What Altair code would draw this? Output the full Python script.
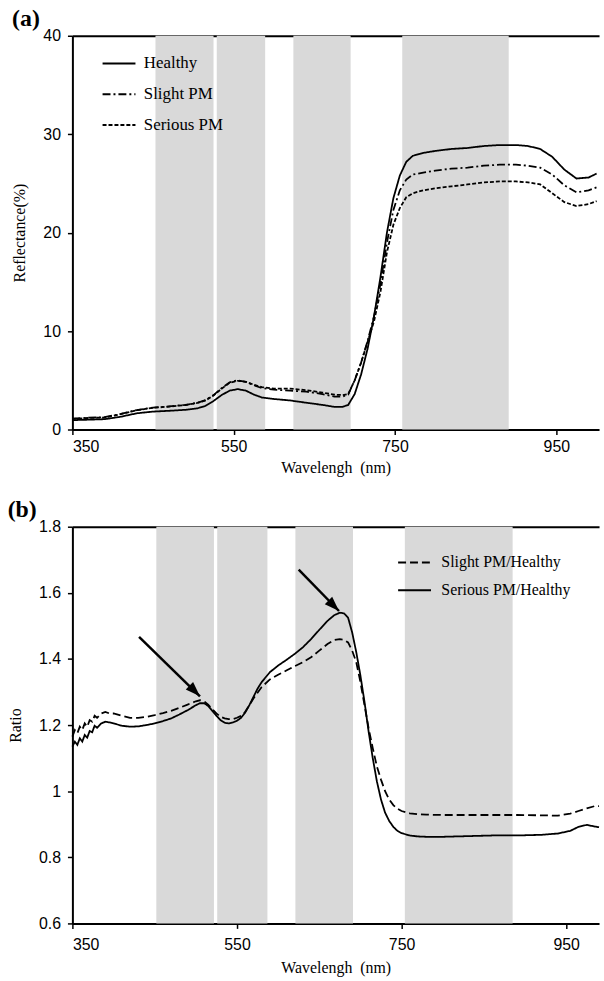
import altair as alt
import pandas as pd

# ---------------- Panel (a): reflectance spectra ----------------
wl_a = [350, 370, 390, 410, 430, 450, 470, 490, 505, 515, 525, 535, 545, 555, 565, 575,
        585, 600, 620, 640, 660, 675, 685, 692, 700, 708, 716, 724, 732, 740, 748, 756,
        764, 772, 785, 800, 820, 840, 860, 880, 900, 915, 930, 945, 960, 975, 990, 1000]
healthy = [0.95, 1.0, 1.05, 1.3, 1.65, 1.82, 1.9, 2.0, 2.15, 2.4, 2.9, 3.5, 3.95, 4.1, 3.95, 3.55,
           3.25, 3.1, 2.95, 2.72, 2.5, 2.3, 2.3, 2.5, 3.6, 5.6, 8.2, 11.5, 15.5, 20.0, 23.5, 25.8,
           27.2, 27.8, 28.1, 28.3, 28.5, 28.6, 28.8, 28.9, 28.9, 28.8, 28.5, 27.7, 26.4, 25.5, 25.6, 26.0]
slight = [1.1, 1.2, 1.25, 1.58, 1.98, 2.22, 2.35, 2.5, 2.72, 2.98, 3.5, 4.2, 4.8, 5.0, 4.85, 4.5,
          4.2, 4.05, 3.95, 3.85, 3.6, 3.35, 3.35, 3.55, 5.0, 6.8, 9.0, 11.5, 14.8, 19.0, 22.3, 24.3,
          25.4, 25.9, 26.1, 26.3, 26.5, 26.6, 26.8, 26.9, 26.9, 26.8, 26.6, 25.9, 24.8, 24.1, 24.3, 24.6]
serious = [1.08, 1.17, 1.22, 1.56, 1.97, 2.2, 2.33, 2.48, 2.7, 2.95, 3.45, 4.15, 4.75, 4.95, 4.85, 4.55,
           4.3, 4.15, 4.15, 4.0, 3.75, 3.54, 3.5, 3.6, 5.0, 6.8, 8.9, 11.0, 14.0, 18.0, 20.8, 22.5,
           23.6, 24.0, 24.3, 24.5, 24.7, 24.9, 25.1, 25.2, 25.2, 25.1, 24.9, 24.0, 23.1, 22.7, 22.9, 23.2]
series_a = ["Healthy", "Slight PM", "Serious PM"]

bands_a_start = [453, 529, 624, 759]
bands_a_end = [525, 589, 695, 891]

# ---------------- Panel (b): ratio spectra ----------------
wl_b = [350, 353, 356, 359, 362, 365, 368, 371, 374, 377, 380, 385, 390, 395, 400, 410, 420, 430,
        440, 450, 460, 470, 480, 490, 500, 505, 510, 515, 520, 525, 530, 535, 540, 545, 550, 555,
        560, 565, 570, 575, 580, 590, 600, 610, 620, 630, 640, 650, 660, 668, 675, 680, 685, 690,
        695, 700, 705, 710, 715, 720, 725, 730, 735, 740, 745, 750, 760, 770, 780, 800, 830, 860,
        890, 920, 940, 955, 965, 975, 985, 990]
ratio_slight = [1.165, 1.185, 1.175, 1.195, 1.185, 1.205, 1.195, 1.215, 1.21, 1.228, 1.222, 1.235, 1.24, 1.235,
                1.235, 1.228, 1.222, 1.222, 1.225, 1.23, 1.236, 1.243, 1.252, 1.262, 1.272, 1.275,
                1.272, 1.262, 1.248, 1.235, 1.225, 1.22, 1.218, 1.218, 1.222, 1.228, 1.24, 1.26, 1.28,
                1.298, 1.315, 1.338, 1.352, 1.365, 1.378, 1.39, 1.405, 1.425, 1.445, 1.457, 1.46,
                1.458, 1.45, 1.425, 1.39, 1.33, 1.26, 1.19, 1.13, 1.075, 1.035, 1.0, 0.975, 0.958,
                0.947, 0.94, 0.933, 0.93, 0.929, 0.928, 0.928, 0.928, 0.928, 0.927, 0.926, 0.932,
                0.94, 0.948, 0.955, 0.955]
ratio_serious = [1.135, 1.15, 1.14, 1.16, 1.15, 1.17, 1.162, 1.182, 1.178, 1.198, 1.192, 1.205, 1.21, 1.208,
                 1.205, 1.198, 1.195, 1.196, 1.2, 1.205, 1.212, 1.22, 1.232, 1.245, 1.26, 1.266,
                 1.266, 1.258, 1.243, 1.228, 1.215, 1.207, 1.205, 1.208, 1.213, 1.222, 1.238, 1.26,
                 1.285, 1.31, 1.33, 1.36, 1.38, 1.397, 1.415, 1.435, 1.46, 1.488, 1.515, 1.532, 1.54,
                 1.538, 1.525, 1.48, 1.42, 1.35, 1.27, 1.18, 1.1, 1.03, 0.975, 0.935, 0.91, 0.892,
                 0.88, 0.873, 0.866, 0.863, 0.862, 0.862, 0.864, 0.866, 0.866, 0.868, 0.872, 0.88,
                 0.892, 0.898, 0.893, 0.891]
series_b = ["Slight PM/Healthy", "Serious PM/Healthy"]

bands_b_start = [452, 526, 621, 754]
bands_b_end = [522, 587, 691, 885]

arrow_x_from = [431, 625]
arrow_y_from = [1.467, 1.670]
arrow_x_to = [505, 674]
arrow_y_to = [1.287, 1.545]

# ---------------- tables ----------------
df_a = pd.DataFrame({
    "wl": wl_a * 3,
    "val": healthy + slight + serious,
    "series": [series_a[0]] * len(wl_a) + [series_a[1]] * len(wl_a) + [series_a[2]] * len(wl_a),
})
df_b = pd.DataFrame({
    "wl": wl_b * 2,
    "val": ratio_slight + ratio_serious,
    "ratio": [series_b[0]] * len(wl_b) + [series_b[1]] * len(wl_b),
})
df_bands_a = pd.DataFrame({"start": bands_a_start, "end": bands_a_end})
df_bands_b = pd.DataFrame({"start": bands_b_start, "end": bands_b_end})
df_arrows = pd.DataFrame({"x0": arrow_x_from, "y0": arrow_y_from,
                          "x1": arrow_x_to, "y1": arrow_y_to})

SERIF = "Liberation Serif"
SANS = "Liberation Sans"
BAND = "#d9d9d9"

top_axis = alt.Axis(orient="top", labels=False, ticks=False, title=None, grid=False,
                    domainColor="black", domainWidth=2)

# ---------------- Panel (a) ----------------
xa = alt.Scale(domain=[350, 1003], nice=False, zero=False)
ya = alt.Scale(domain=[0, 40], nice=False)
ya_axis = alt.Axis(values=[0, 10, 20, 30, 40], title="Reflectance(%)", grid=False, titlePadding=15)

bands_a = alt.Chart(df_bands_a).mark_rect(color=BAND).encode(
    x=alt.X("start:Q", scale=xa, axis=top_axis),
    x2="end:Q",
)
lines_a = alt.Chart(df_a).mark_line(color="black", strokeWidth=1.8).encode(
    x=alt.X("wl:Q", scale=xa,
            axis=alt.Axis(values=[350, 550, 750, 950], title="Wavelengh\u00a0 (nm)", grid=False,
                          labelPadding=4, titlePadding=5)),
    y=alt.Y("val:Q", scale=ya, axis=ya_axis),
    strokeDash=alt.StrokeDash(
        "series:N",
        scale=alt.Scale(domain=series_a, range=[[1, 0], [8, 3, 2, 3], [4, 2]]),
        sort=series_a,
        legend=alt.Legend(title=None, orient="none", legendX=29, legendY=10,
                          symbolType="stroke", symbolSize=1100, symbolStrokeWidth=2,
                          symbolStrokeColor="black", labelFont=SERIF, labelFontSize=17,
                          labelColor="black", rowPadding=5, padding=0, labelOffset=7),
    ),
)
panel_a = alt.layer(bands_a, lines_a).resolve_axis(x="independent").properties(
    width=531, height=397,
    title=alt.TitleParams("(a)", anchor="start", font=SERIF, fontSize=24, fontWeight="bold",
                          color="black", offset=-3),
)

# ---------------- Panel (b) ----------------
xb = alt.Scale(domain=[350, 990], nice=False, zero=False)
yb = alt.Scale(domain=[0.6, 1.8], nice=False, zero=False)
yb_axis = alt.Axis(values=[0.6, 0.8, 1.0, 1.2, 1.4, 1.6, 1.8], format=".1~f", title="Ratio",
                   grid=False, titlePadding=15)

bands_b = alt.Chart(df_bands_b).mark_rect(color=BAND).encode(
    x=alt.X("start:Q", scale=xb, axis=top_axis),
    x2="end:Q",
)
lines_b = alt.Chart(df_b).mark_line(color="black", strokeWidth=1.8).encode(
    x=alt.X("wl:Q", scale=xb,
            axis=alt.Axis(values=[350, 550, 750, 950], title="Wavelengh\u00a0 (nm)", grid=False,
                          labelPadding=8, titlePadding=7)),
    y=alt.Y("val:Q", scale=yb, axis=yb_axis),
    strokeDash=alt.StrokeDash(
        "ratio:N",
        scale=alt.Scale(domain=series_b, range=[[8, 4], [1, 0]]),
        sort=series_b,
        legend=alt.Legend(title=None, orient="none", legendX=327, legendY=18,
                          symbolType="stroke", symbolSize=1100, symbolStrokeWidth=2,
                          symbolStrokeColor="black", labelFont=SERIF, labelFontSize=16,
                          labelColor="black", rowPadding=2, padding=0, labelOffset=9),
    ),
)
arrow_lines = alt.Chart(df_arrows).mark_rule(color="black", strokeWidth=2.5).encode(
    x=alt.X("x0:Q", scale=xb, axis=None),
    y=alt.Y("y0:Q", scale=yb, axis=yb_axis),
    x2="x1:Q",
    y2="y1:Q",
)
arrow_heads = alt.Chart(df_arrows).mark_point(
    shape="M0,0 L0.7,2 L-0.7,2 Z", filled=True, color="black", size=225, angle=135, opacity=1
).encode(
    x=alt.X("x1:Q", scale=xb, axis=None),
    y=alt.Y("y1:Q", scale=yb, axis=yb_axis),
)
panel_b = alt.layer(bands_b, lines_b, arrow_lines, arrow_heads).resolve_axis(
    x="independent"
).properties(
    width=531, height=400,
    title=alt.TitleParams("(b)", anchor="start", font=SERIF, fontSize=24, fontWeight="bold",
                          color="black", offset=-3),
)

chart = alt.vconcat(panel_a, panel_b, spacing=21).resolve_scale(
    strokeDash="independent", x="independent", y="independent"
).resolve_legend(
    strokeDash="independent"
).properties(
    padding={"left": 7, "top": 2, "right": 0, "bottom": 2},
    background="white",
).configure_view(
    stroke="transparent"
).configure_axis(
    domainColor="black", domainWidth=2, tickColor="black", tickWidth=1.5, tickSize=5,
    labelFont=SANS, labelFontSize=16, labelColor="black",
    titleFont=SERIF, titleFontSize=16, titleFontWeight="normal", titleColor="black",
).configure_axisY(
    labelPadding=7
)

chart.save("out.html", embed_options={"renderer": "svg", "actions": False})
